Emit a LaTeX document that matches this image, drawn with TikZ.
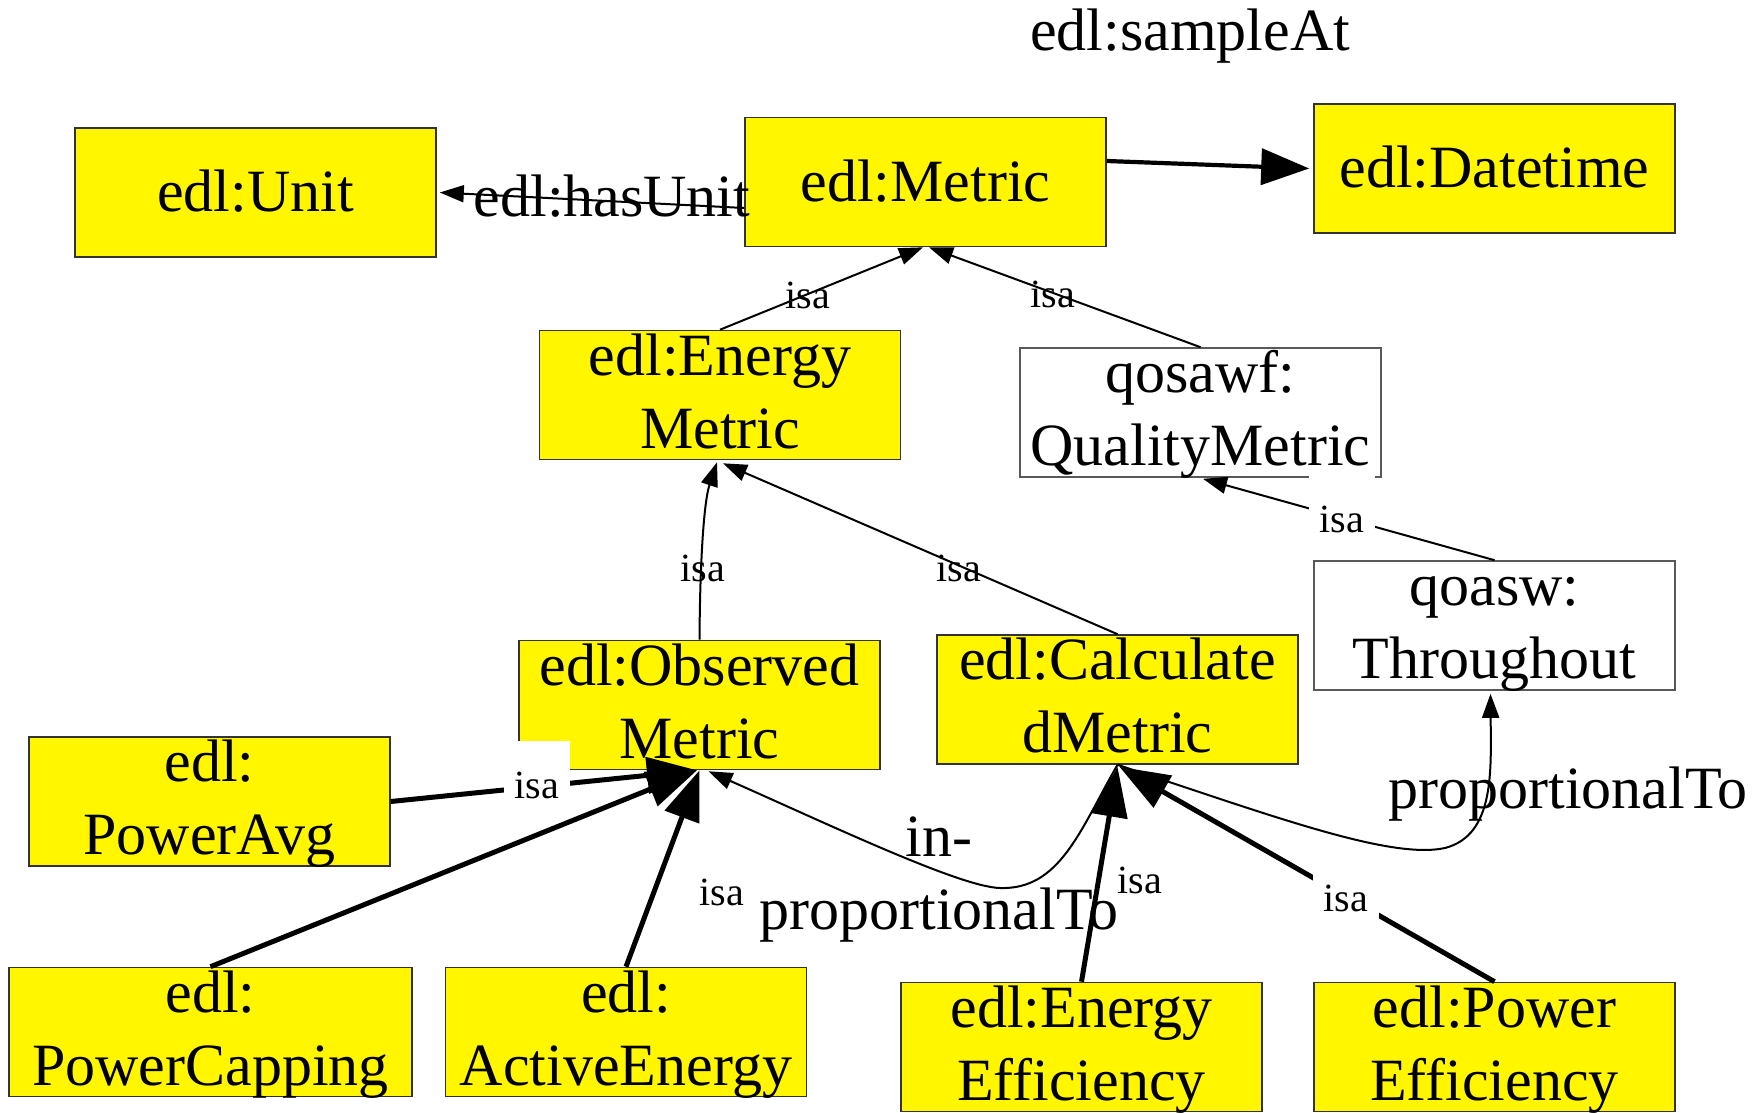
\documentclass[tikz,border=0pt]{standalone}
\usepackage{fontspec}
\setmainfont{Liberation Serif}
\usetikzlibrary{arrows.meta}
\definecolor{boxyellow}{RGB}{255,246,0}
\begin{document}
\begin{tikzpicture}[x=0.5pt,y=-0.5pt,
  box/.style={draw=black!80, line width=0.8pt, fill=boxyellow, minimum width=180.5pt, minimum height=64.5pt, inner sep=0pt, align=center, font=\fontsize{30}{36.5}\selectfont},
  wbox/.style={box, fill=white, draw=black!65},
  oneline/.style={text height=19pt, text depth=0pt},
  twoline/.style={text height=53pt, text depth=0pt},
  thinarr/.style={line width=1pt, -{Triangle[length=12pt,width=8.5pt]}},
  thickarr/.style={line width=2.5pt, -{Triangle[length=25pt,width=18pt]}},
  isa/.style={font=\fontsize{20}{24}\selectfont, anchor=base, inner sep=0pt},
  isaw/.style={isa, fill=white, inner xsep=5.5pt, text height=28.5pt, text depth=4pt},
  lbl/.style={font=\fontsize{30}{36.5}\selectfont, anchor=base, inner sep=0pt, align=center}
]
\fill[white] (0,0) rectangle (1763,1113);
\useasboundingbox (0,0) rectangle (1763,1113);

% nodes
\node[box,oneline] (unit) at (255.5,192.5) {edl:Unit};
\node[box,oneline] (metric) at (925.5,182) {edl:Metric};
\node[box,oneline] (datetime) at (1494.5,168.5) {edl:Datetime};
\node[box,twoline] (emetric) at (720,395) {edl:Energy\\Metric};
\node[wbox,twoline] (qmetric) at (1200.5,412.5) {qosawf:\\QualityMetric};
\node[box,twoline] (obs) at (699.5,705) {edl:Observed\\Metric};
\node[box,twoline] (calc) at (1117.5,699.5) {edl:Calculate\\dMetric};
\node[wbox,twoline] (thr) at (1494.5,625.5) {qoasw:\\Throughout};
\node[box,twoline] (pavg) at (209.5,801.5) {edl:\\PowerAvg};
\node[box,twoline,minimum width=201.5pt] (pcap) at (210.5,1032) {edl:\\PowerCapping};
\node[box,twoline] (aen) at (626,1032) {edl:\\ActiveEnergy};
\node[box,twoline] (eeff) at (1081.5,1047) {edl:Energy\\Efficiency};
\node[box,twoline] (peff) at (1494.5,1047) {edl:Power\\Efficiency};

% edges
\draw[line width=2.1pt, -{Triangle[length=24pt,width=18pt]}] ([yshift=10.5pt]metric.east) -- ([xshift=-2pt]datetime.west);
\draw[thinarr] ([yshift=-13pt]metric.west) -- ([xshift=1.5pt]unit.east);
\draw[thinarr] (emetric.north) -- ([xshift=-1.25pt]metric.south);
\draw[thinarr] (qmetric.north) -- ([xshift=1.75pt]metric.south);
\draw[thinarr] (obs.north) .. controls +(0.5,-81) and +(-13,39) .. ([xshift=-1.5pt,yshift=-1pt]emetric.south);
\draw[thinarr] (calc.north) -- ([xshift=1.5pt,yshift=-1.5pt]emetric.south);
\draw[thinarr] (thr.north) -- ([xshift=1.25pt,yshift=-0.5pt]qmetric.south);
\draw[thickarr] (pavg.east) -- ([xshift=-1.25pt]obs.south);
\draw[thickarr] (pcap.north) -- ([xshift=-1.25pt]obs.south);
\draw[thickarr] (aen.north) -- (obs.south);
\draw[thickarr] (eeff.north) -- ([yshift=-1pt]calc.south);
\draw[thickarr] (peff.north) -- ([xshift=1pt,yshift=-1pt]calc.south);
\draw[thinarr] (calc.south) .. controls (1270,815) and (1390,860) .. (1445,848)
   .. controls (1495,835) and (1491,770) .. ([xshift=-2pt,yshift=-1.5pt]thr.south);
\draw[thinarr] (calc.south) .. controls (1080,830) and (1060,890) .. (1000,888)
   .. controls (960,887) and (830,825) .. ([xshift=4.5pt,yshift=-0.5pt]obs.south);

% labels
\node[lbl] (lsample) at (1190,51) {edl:sampleAt};
\node[lbl] (lhasunit) at (612,217) {edl:hasUnit};
\node[lbl] (lprop) at (1568,808) {proportionalTo};
\node[lbl] (linprop) at (939,929) {in-\\proportionalTo};
\node[isa] (i1) at (808,308) {isa};
\node[isa] (i2) at (1053,307) {isa};
\node[isa] (i3) at (703,581) {isa};
\node[isa] (i4) at (959,581) {isa};
\node[isaw] (i5) at (1342,532) {isa};
\node[isaw] (i6) at (537,798) {isa};
\node[isa] (i7) at (722,905) {isa};
\node[isa] (i8) at (1140,893) {isa};
\node[isaw] (i9) at (1346,911) {isa};
\end{tikzpicture}
\end{document}
